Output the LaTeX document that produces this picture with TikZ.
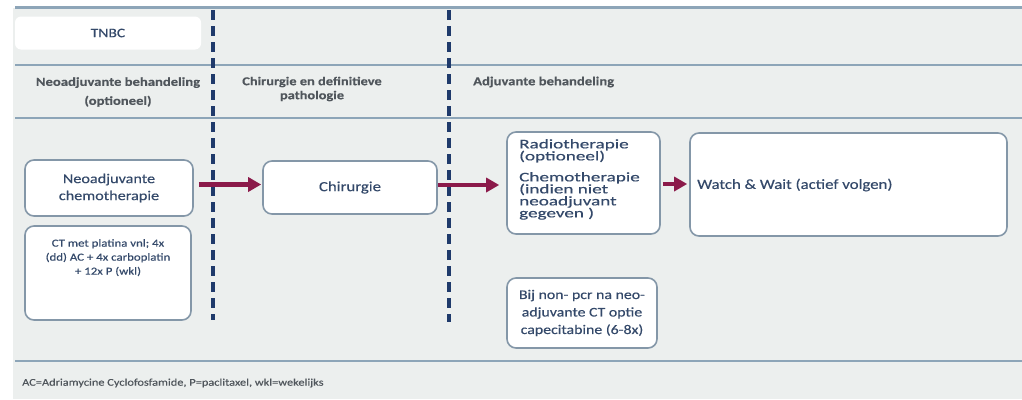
\documentclass[tikz,border=0pt]{standalone}
\usepackage{fontspec}
\setmainfont[FakeStretch=1.2,FakeBold=0.35]{Carlito}
\newfontfamily\widefont[FakeStretch=1.45,FakeBold=0.35]{Carlito}
\usetikzlibrary{arrows.meta}
\definecolor{panelgray}{HTML}{ECEFEE}
\definecolor{rulecol}{HTML}{8DA5B8}
\definecolor{boxborder}{HTML}{8497A8}
\definecolor{boxtext}{HTML}{34496A}
\definecolor{headtext}{HTML}{50565C}
\definecolor{dashcol}{HTML}{1F3A6B}
\definecolor{arrcol}{HTML}{8B1A4A}
\tikzset{
  hrule/.style={draw=rulecol, line width=2.6pt},
  vdash/.style={draw=dashcol, line width=3.4pt, dash pattern=on 10pt off 6pt},
  box/.style={draw=boxborder, fill=white, line width=1.6pt, rounded corners=9pt, text=boxtext, align=center, inner sep=0pt},
  head/.style={text=headtext, font=\fontsize{12.2}{19}\selectfont\bfseries, align=center, inner sep=0pt},
  arr/.style={draw=arrcol, line width=4.5pt, -{Triangle[length=13pt,width=14pt]}},
}
\begin{document}
\begin{tikzpicture}[x=1pt,y=-1pt]
\useasboundingbox (0,0) rectangle (1022,399);
\fill[panelgray] (13,8) rectangle (1022,399);
% rules
\draw[hrule] (15,7.5) -- (1022,7.5);
\draw[hrule] (15,65) -- (1022,65);
\draw[hrule] (15,118) -- (1022,118);
\draw[hrule] (15,361) -- (1022,361);
% dashed separators
\draw[vdash] (213,10) -- (213,320);
\draw[vdash] (449,10) -- (449,322);
% TNBC box
\node[fill=white, rounded corners=6pt, minimum width=186pt, minimum height=33pt, text=boxtext, font=\fontsize{13}{15}\selectfont, inner sep=0pt] (tnbc) at (108,33) {TNBC};
% headers
\node[head] (h1) at (118,92) {Neoadjuvante behandeling\\(optioneel)};
\node[head, font=\fontsize{12}{14}\selectfont\bfseries] (h2) at (312,89) {Chirurgie en definitieve\\pathologie};
\node[head, anchor=west] (h3) at (473,82) {Adjuvante behandeling};
% boxes
\node[box, minimum width=168pt, minimum height=56pt, font=\fontsize{13.5}{17}\selectfont] (neo) at (109,188) {Neoadjuvante\\chemotherapie};
\node[box, minimum width=166pt, minimum height=94pt] (ct) at (108,273) {};
\node[text=boxtext, align=center, font=\fontsize{10.7}{14}\selectfont, inner sep=0pt, anchor=north] (cttext) at (108,239) {CT met platina vnl; 4x\\(dd) AC + 4x carboplatin\\+ 12x P (wkl)};
\node[box, minimum width=174pt, minimum height=53pt, font=\fontsize{14}{16.5}\selectfont] (chir) at (350,187.5) {Chirurgie};
\node[box, minimum width=153pt, minimum height=102pt] (radio) at (583.5,183) {};
\node[text=boxtext, align=left, anchor=north west, inner sep=0pt, font=\widefont\fontsize{13.2}{12}\selectfont] (radiotext) at (519,139) {Radiotherapie\\(optioneel)\\[9pt]Chemotherapie\\(indien niet\\neoadjuvant\\gegeven )};
\node[box, minimum width=317pt, minimum height=103pt] (ww) at (848.5,184.5) {};
\node[text=boxtext, anchor=west, inner sep=0pt, font=\fontsize{14}{17}\selectfont] (wwtext) at (697,185) {Watch \& Wait (actief volgen)};
\node[box, minimum width=150pt, minimum height=70pt, font=\fontsize{13.2}{17.5}\selectfont] (bij) at (582,313) {Bij non- pcr na neo-\\adjuvante CT optie\\capecitabine (6-8x)};
% arrows
\coordinate (ya) at (0,184.5);
\coordinate (yb) at (0,185);
\coordinate (yc) at (0,184);
\draw[arr] ([xshift=5pt]neo.east |- ya) -- ([xshift=-1pt]chir.west |- ya);
\draw[arr] (chir.east |- yb) -- ([xshift=-7pt]radio.west |- yb);
\draw[arr] ([xshift=2pt]radio.east |- yc) -- ([xshift=-2pt]ww.west |- yc);
% footer
\node[text=headtext, anchor=west, inner sep=0pt, font=\fontsize{10.3}{12}\selectfont] (foot) at (22,383) {AC=Adriamycine Cyclofosfamide, P=paclitaxel, wkl=wekelijks};
\end{tikzpicture}
\end{document}
